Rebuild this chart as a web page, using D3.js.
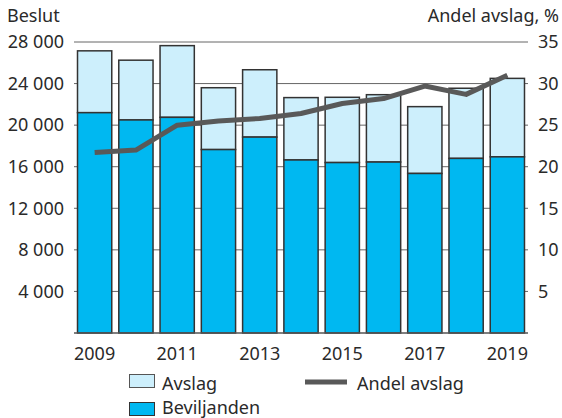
<!DOCTYPE html>
<html>
<head>
<meta charset="utf-8">
<script src="https://cdn.jsdelivr.net/npm/d3@7"></script>
<style>
  body { margin: 0; background: #fff; }
  text { font-family: "Noto Sans", sans-serif; fill: #2a2a2a; }
</style>
</head>
<body>
<svg id="chart" width="562" height="418"></svg>
<script>
// data
var years = ["2009", "2010", "2011", "2012", "2013", "2014", "2015", "2016", "2017", "2018", "2019"];
var beviljanden = [21200, 20500, 20750, 17650, 18850, 16650, 16400, 16450, 15350, 16800, 16950];
var totalBeslut = [27150, 26250, 27650, 23600, 25330, 22650, 22680, 22930, 21780, 23550, 24500];
var andelAvslag = [21.7, 22.0, 25.0, 25.5, 25.8, 26.4, 27.6, 28.2, 29.7, 28.7, 31.0];
var leftTicks = [4000, 8000, 12000, 16000, 20000, 24000, 28000];
var rightTicks = [5, 10, 15, 20, 25, 30, 35];
var xLabels = ["2009", "2011", "2013", "2015", "2017", "2019"];

var svg = d3.select("#chart");
var plotLeft = 74, plotRight = 528, plotTop = 42, plotBottom = 333;
var fontSize = 18;

var x = d3.scaleBand().domain(years).range([plotLeft, plotRight])
  .paddingInner(0.17).paddingOuter(0.085);
var y = d3.scaleLinear().domain([0, 28000]).range([plotBottom, plotTop]);
var y2 = d3.scaleLinear().domain([0, 35]).range([plotBottom, plotTop]);

var fmt = function(v) { return d3.format(",")(v).replace(/,/g, " "); };

// gridlines
svg.append("g").selectAll("line").data(leftTicks).join("line")
  .attr("x1", plotLeft).attr("x2", plotRight)
  .attr("y1", function(d) { return y(d); }).attr("y2", function(d) { return y(d); })
  .attr("stroke", "#666").attr("stroke-width", 1);

// left labels
svg.append("g").selectAll("text").data(leftTicks).join("text")
  .attr("x", 64).attr("y", function(d) { return y(d); })
  .attr("dy", "0.35em").attr("text-anchor", "end")
  .attr("font-size", fontSize).text(fmt);

// right labels
svg.append("g").selectAll("text").data(rightTicks).join("text")
  .attr("x", 538).attr("y", function(d) { return y2(d); })
  .attr("dy", "0.35em").attr("text-anchor", "start")
  .attr("font-size", fontSize).text(function(d) { return d; });

// bars: avslag on top, beviljanden below
var bars = svg.append("g");
bars.selectAll("rect.avslag").data(years).join("rect")
  .attr("class", "avslag")
  .attr("x", function(d) { return x(d); })
  .attr("width", x.bandwidth())
  .attr("y", function(d, i) { return y(totalBeslut[i]); })
  .attr("height", function(d, i) { return y(beviljanden[i]) - y(totalBeslut[i]); })
  .attr("fill", "#cdeffc").attr("stroke", "#333").attr("stroke-width", 1.5);
bars.selectAll("rect.bev").data(years).join("rect")
  .attr("class", "bev")
  .attr("x", function(d) { return x(d); })
  .attr("width", x.bandwidth())
  .attr("y", function(d, i) { return y(beviljanden[i]); })
  .attr("height", function(d, i) { return plotBottom - y(beviljanden[i]); })
  .attr("fill", "#00b8f1").attr("stroke", "#333").attr("stroke-width", 1.5);

// baseline
svg.append("line").attr("x1", plotLeft).attr("x2", plotRight)
  .attr("y1", plotBottom).attr("y2", plotBottom)
  .attr("stroke", "#555").attr("stroke-width", 1.5);

// share line
var line = d3.line()
  .x(function(d, i) { return x(years[i]) + x.bandwidth() / 2; })
  .y(function(d) { return y2(d); });
svg.append("path").datum(andelAvslag)
  .attr("d", line).attr("fill", "none")
  .attr("stroke", "#595959").attr("stroke-width", 5)
  .attr("stroke-linejoin", "round");

// x labels
svg.append("g").selectAll("text").data(xLabels).join("text")
  .attr("x", function(d) { return x(d) + x.bandwidth() / 2; })
  .attr("y", 360).attr("text-anchor", "middle")
  .attr("font-size", fontSize).text(function(d) { return d; });

// axis titles
svg.append("text").attr("x", 7).attr("y", 22).attr("font-size", fontSize).text("Beslut");
svg.append("text").attr("x", 559).attr("y", 22).attr("text-anchor", "end")
  .attr("font-size", fontSize).text("Andel avslag, %");

// legend
var legend = svg.append("g");
legend.append("rect").attr("x", 129.5).attr("y", 374.5).attr("width", 25).attr("height", 13)
  .attr("fill", "#cdeffc").attr("stroke", "#555").attr("stroke-width", 1);
legend.append("text").attr("x", 162).attr("y", 389.5)
  .attr("font-size", fontSize).text("Avslag");
legend.append("rect").attr("x", 129.5).attr("y", 402.5).attr("width", 25).attr("height", 13)
  .attr("fill", "#00b8f1").attr("stroke", "#333").attr("stroke-width", 1);
legend.append("text").attr("x", 162).attr("y", 414)
  .attr("font-size", fontSize).text("Beviljanden");
legend.append("line").attr("x1", 305).attr("x2", 347).attr("y1", 382).attr("y2", 382)
  .attr("stroke", "#595959").attr("stroke-width", 5);
legend.append("text").attr("x", 357).attr("y", 389.5)
  .attr("font-size", fontSize).text("Andel avslag");
</script>
</body>
</html>
